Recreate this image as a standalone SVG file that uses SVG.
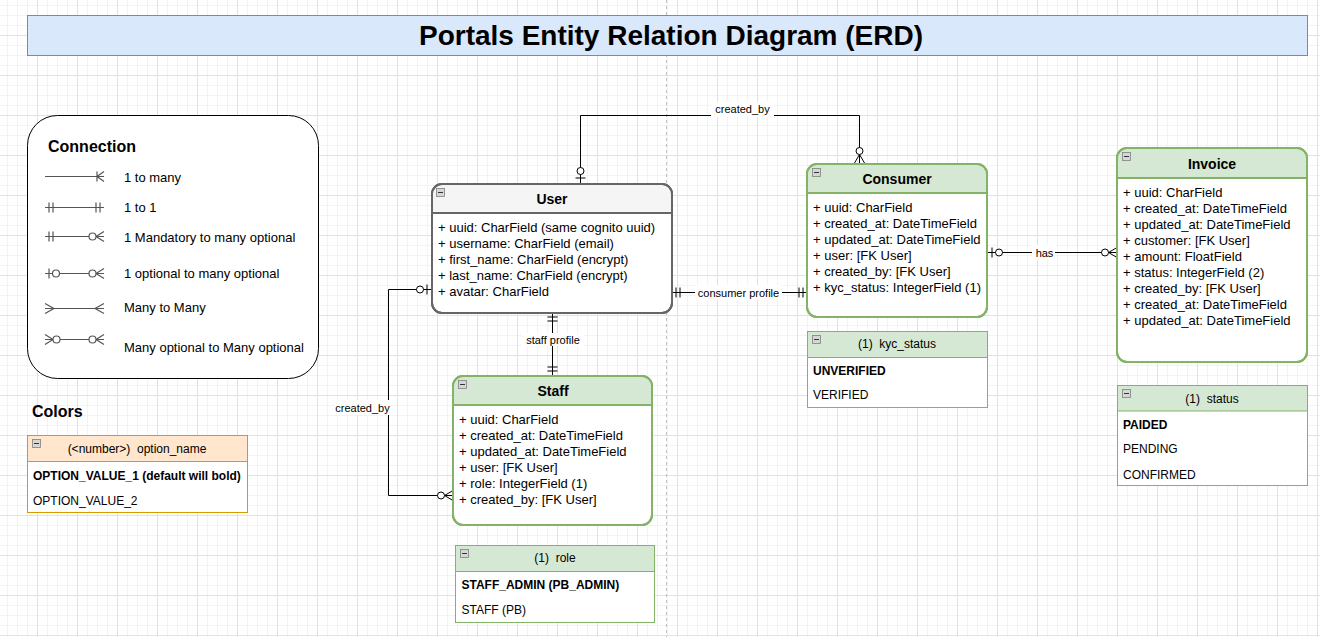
<svg xmlns="http://www.w3.org/2000/svg" xmlns:xlink="http://www.w3.org/1999/xlink" width="1320" height="637" viewBox="0 0 1320 637">
<style>
text{font-family:"Liberation Sans",Arial,Helvetica,sans-serif;fill:#000}
.title{font-size:28px;font-weight:bold}
.h16{font-size:16px;font-weight:bold}
.t12{font-size:12px}
.t13{font-size:13px}
.b12{font-size:12px;font-weight:bold}
.ent-title{font-size:14px;font-weight:bold}
.lbl{font-size:11px}
.pre{white-space:pre}
.edge{fill:none;stroke:#000;stroke-width:1}
.lg{fill:none;stroke:#555;stroke-width:1.2}
.lbg{fill:#fff}
.user-box{fill:#fff;stroke:#666;stroke-width:2}
.user-head{fill:#f5f5f5}
.green-box{fill:#fff;stroke:#82b366;stroke-width:2}
.green-head{fill:#d5e8d4}
.tbl-green{fill:#fff;stroke:#82b366;stroke-width:1}
.tbl-orange{fill:#fff;stroke:#d79b00;stroke-width:1}
</style>
<defs>
<pattern id="grid" patternUnits="userSpaceOnUse" x="37" y="35" width="40" height="40">
<path d="M0 10.5H40M0 20.5H40M0 30.5H40M10.5 0V40M20.5 0V40M30.5 0V40" stroke="#f3f3f3" stroke-width="1" fill="none"/>
<path d="M0 0.5H40M0.5 0V40" stroke="#e2e2e2" stroke-width="1" fill="none"/>
</pattern>
<g id="minus"><rect x="0.5" y="0.5" width="8" height="8" fill="#d6d6d6" stroke="#808080" stroke-width="0.8"/><line x1="2" y1="4.5" x2="7" y2="4.5" stroke="#333" stroke-width="1"/></g>
<marker id="zOne" markerUnits="userSpaceOnUse" viewBox="-20 -8 22 16" refX="0" refY="0" markerWidth="22" markerHeight="16" orient="auto-start-reverse" overflow="visible">
<g fill="none" stroke="#000" stroke-width="1"><line x1="-5" y1="-5" x2="-5" y2="5"/><circle cx="-12" cy="0" r="3.5" fill="#fff"/></g>
</marker>
<marker id="zMany" markerUnits="userSpaceOnUse" viewBox="-20 -8 22 16" refX="0" refY="0" markerWidth="22" markerHeight="16" orient="auto-start-reverse" overflow="visible">
<g fill="none" stroke="#000" stroke-width="1"><path d="M-8.5 0L0 -5M-8.5 0L0 5M-8.5 0H0"/><circle cx="-12" cy="0" r="3.5" fill="#fff"/></g>
</marker>
<marker id="mOne" markerUnits="userSpaceOnUse" viewBox="-20 -8 22 16" refX="0" refY="0" markerWidth="22" markerHeight="16" orient="auto-start-reverse" overflow="visible">
<g fill="none" stroke="#000" stroke-width="1"><path d="M-4 -5V5M-8 -5V5"/></g>
</marker>
<marker id="lzOne" markerUnits="userSpaceOnUse" viewBox="-20 -8 22 16" refX="0" refY="0" markerWidth="22" markerHeight="16" orient="auto-start-reverse" overflow="visible">
<g fill="none" stroke="#555" stroke-width="1.2"><line x1="-4" y1="-5" x2="-4" y2="5"/><circle cx="-11" cy="0" r="3.5" fill="#fff"/></g>
</marker>
<marker id="lzMany" markerUnits="userSpaceOnUse" viewBox="-20 -8 22 16" refX="0" refY="0" markerWidth="22" markerHeight="16" orient="auto-start-reverse" overflow="visible">
<g fill="none" stroke="#555" stroke-width="1.2"><path d="M-8 0L0 -5M-8 0L0 5"/><circle cx="-11.5" cy="0" r="3.5" fill="#fff"/></g>
</marker>
<marker id="lmOne" markerUnits="userSpaceOnUse" viewBox="-20 -8 22 16" refX="0" refY="0" markerWidth="22" markerHeight="16" orient="auto-start-reverse" overflow="visible">
<g fill="none" stroke="#555" stroke-width="1.2"><path d="M-4 -5V5M-8 -5V5"/></g>
</marker>
<marker id="lMany" markerUnits="userSpaceOnUse" viewBox="-20 -8 22 16" refX="0" refY="0" markerWidth="22" markerHeight="16" orient="auto-start-reverse" overflow="visible">
<g fill="none" stroke="#555" stroke-width="1.2"><path d="M-9 0L0 -5M-9 0L0 5"/></g>
</marker>
<marker id="lOneMany" markerUnits="userSpaceOnUse" viewBox="-20 -8 22 16" refX="0" refY="0" markerWidth="22" markerHeight="16" orient="auto-start-reverse" overflow="visible">
<g fill="none" stroke="#555" stroke-width="1.2"><path d="M-7 -5V5M-7 0L0 -5M-7 0L0 5"/></g>
</marker>
</defs>

<rect x="0" y="0" width="1320" height="637" fill="#fff"/>
<rect x="0" y="0" width="1320" height="637" fill="url(#grid)"/>
<line x1="666.5" y1="0" x2="666.5" y2="637" stroke="#c0c0c0" stroke-width="1" stroke-dasharray="3 3"/>

<g id="title">
<rect x="27.5" y="15.5" width="1280" height="40" fill="#dae8fc" stroke="#6c8ebf" stroke-width="1"/>
<text class="title" x="671" y="45" text-anchor="middle">Portals Entity Relation Diagram (ERD)</text>
</g>

<g id="legend">
<rect x="27.5" y="115.5" width="291" height="263" rx="30" ry="30" fill="#fff" stroke="#000" stroke-width="1"/>
<text class="h16" x="48" y="152">Connection</text>
<line class="lg" x1="45" y1="176.5" x2="104" y2="176.5" marker-end="url(#lOneMany)"/>
<text class="t13" x="124" y="182">1 to many</text>
<line class="lg" x1="45" y1="207.5" x2="104" y2="207.5" marker-start="url(#lmOne)" marker-end="url(#lmOne)"/>
<text class="t13" x="124" y="212">1 to 1</text>
<line class="lg" x1="45" y1="236.5" x2="104" y2="236.5" marker-start="url(#lmOne)" marker-end="url(#lzMany)"/>
<text class="t13" x="124" y="241.5">1 Mandatory to many optional</text>
<line class="lg" x1="45" y1="273.5" x2="104" y2="273.5" marker-start="url(#lzOne)" marker-end="url(#lzMany)"/>
<text class="t13" x="124" y="277.5">1 optional to many optional</text>
<line class="lg" x1="45" y1="308.5" x2="104" y2="308.5" marker-start="url(#lMany)" marker-end="url(#lMany)"/>
<text class="t13" x="124" y="312">Many to Many</text>
<line class="lg" x1="45" y1="339.5" x2="104" y2="339.5" marker-start="url(#lzMany)" marker-end="url(#lzMany)"/>
<text class="t13" x="124" y="352">Many optional to Many optional</text>
</g>

<g id="colors">
<text class="h16" x="32" y="416.5">Colors</text>
<rect class="tbl-orange" x="27.5" y="435.5" width="220" height="77"/>
<rect x="27.5" y="435.5" width="220" height="26" fill="#ffe6cc" stroke="#d79b00" stroke-width="1"/>
<use href="#minus" x="32" y="439"/>
<text class="t12 pre" x="137" y="452.5" text-anchor="middle">(&lt;number&gt;)  option_name</text>
<text class="b12" x="33" y="479.5">OPTION_VALUE_1 (default will bold)</text>
<text class="t12" x="33" y="504.5">OPTION_VALUE_2</text>
</g>

<g id="connectors">
<path class="edge" d="M580.5 183V115.5H859.5V163" marker-start="url(#zOne)" marker-end="url(#zMany)"/>
<rect class="lbg" x="711" y="102" width="63" height="15"/>
<text class="lbl" x="742.5" y="113" text-anchor="middle">created_by</text>
<path class="edge" d="M672 292.5H807" marker-start="url(#mOne)" marker-end="url(#mOne)"/>
<rect class="lbg" x="695" y="285" width="87" height="15"/>
<text class="lbl" x="738.5" y="296.5" text-anchor="middle">consumer profile</text>
<path class="edge" d="M552.5 313V375" marker-start="url(#mOne)" marker-end="url(#mOne)"/>
<rect class="lbg" x="522" y="333" width="62" height="13"/>
<text class="lbl" x="553" y="343.5" text-anchor="middle">staff profile</text>
<path class="edge" d="M432 289.5H388.5V495.5H453" marker-start="url(#zOne)" marker-end="url(#zMany)"/>
<rect class="lbg" x="335" y="400" width="55" height="15"/>
<text class="lbl" x="362.5" y="411.5" text-anchor="middle">created_by</text>
<path class="edge" d="M987 252.5H1117" marker-start="url(#zOne)" marker-end="url(#zMany)"/>
<rect class="lbg" x="1032" y="245" width="23" height="15"/>
<text class="lbl" x="1044.5" y="256.5" text-anchor="middle">has</text>
</g>

<g id="user">
<rect class="user-box" x="432" y="184" width="240" height="129" rx="10"/>
<path class="user-head" d="M433 213V194a9 9 0 0 1 9 -9H662a9 9 0 0 1 9 9V213Z"/>
<line x1="432" y1="213" x2="672" y2="213" stroke="#666" stroke-width="2"/>
<rect x="432" y="184" width="240" height="129" rx="10" fill="none" stroke="#666" stroke-width="2"/>
<use href="#minus" x="436" y="188"/>
<text class="ent-title" x="552" y="203.5" text-anchor="middle">User</text>
<text class="t13" x="438" y="232">+ uuid: CharField (same cognito uuid)</text>
<text class="t13" x="438" y="248">+ username: CharField (email)</text>
<text class="t13" x="438" y="264">+ first_name: CharField (encrypt)</text>
<text class="t13" x="438" y="280">+ last_name: CharField (encrypt)</text>
<text class="t13" x="438" y="296">+ avatar: CharField</text>
</g>

<g id="consumer">
<rect class="green-box" x="807" y="164" width="180" height="153" rx="10"/>
<path class="green-head" d="M808 193V174a9 9 0 0 1 9 -9H977a9 9 0 0 1 9 9V193Z"/>
<line x1="807" y1="193" x2="987" y2="193" stroke="#82b366" stroke-width="2"/>
<rect x="807" y="164" width="180" height="153" rx="10" fill="none" stroke="#82b366" stroke-width="2"/>
<use href="#minus" x="812" y="168"/>
<text class="ent-title" x="897" y="184" text-anchor="middle">Consumer</text>
<text class="t13" x="813" y="212">+ uuid: CharField</text>
<text class="t13" x="813" y="228">+ created_at: DateTimeField</text>
<text class="t13" x="813" y="244">+ updated_at: DateTimeField</text>
<text class="t13" x="813" y="260">+ user: [FK User]</text>
<text class="t13" x="813" y="276">+ created_by: [FK User]</text>
<text class="t13" x="813" y="292">+ kyc_status: IntegerField (1)</text>
</g>

<g id="invoice">
<rect class="green-box" x="1117" y="148" width="190" height="214" rx="10"/>
<path class="green-head" d="M1118 178V158a9 9 0 0 1 9 -9H1297a9 9 0 0 1 9 9V178Z"/>
<line x1="1117" y1="178" x2="1307" y2="178" stroke="#82b366" stroke-width="2"/>
<rect x="1117" y="148" width="190" height="214" rx="10" fill="none" stroke="#82b366" stroke-width="2"/>
<use href="#minus" x="1122" y="152"/>
<text class="ent-title" x="1212" y="169" text-anchor="middle">Invoice</text>
<text class="t13" x="1123" y="196.5">+ uuid: CharField</text>
<text class="t13" x="1123" y="212.5">+ created_at: DateTimeField</text>
<text class="t13" x="1123" y="228.5">+ updated_at: DateTimeField</text>
<text class="t13" x="1123" y="244.5">+ customer: [FK User]</text>
<text class="t13" x="1123" y="260.5">+ amount: FloatField</text>
<text class="t13" x="1123" y="276.5">+ status: IntegerField (2)</text>
<text class="t13" x="1123" y="292.5">+ created_by: [FK User]</text>
<text class="t13" x="1123" y="308.5">+ created_at: DateTimeField</text>
<text class="t13" x="1123" y="324.5">+ updated_at: DateTimeField</text>
</g>

<g id="staff">
<rect class="green-box" x="453" y="376" width="199" height="149" rx="10"/>
<path class="green-head" d="M454 405V386a9 9 0 0 1 9 -9H642a9 9 0 0 1 9 9V405Z"/>
<line x1="453" y1="405" x2="652" y2="405" stroke="#82b366" stroke-width="2"/>
<rect x="453" y="376" width="199" height="149" rx="10" fill="none" stroke="#82b366" stroke-width="2"/>
<use href="#minus" x="458" y="380"/>
<text class="ent-title" x="553" y="396" text-anchor="middle">Staff</text>
<text class="t13" x="459" y="423.5">+ uuid: CharField</text>
<text class="t13" x="459" y="439.5">+ created_at: DateTimeField</text>
<text class="t13" x="459" y="455.5">+ updated_at: DateTimeField</text>
<text class="t13" x="459" y="471.5">+ user: [FK User]</text>
<text class="t13" x="459" y="487.5">+ role: IntegerField (1)</text>
<text class="t13" x="459" y="503.5">+ created_by: [FK User]</text>
</g>

<g id="role">
<rect class="tbl-green" x="455.5" y="545.5" width="199" height="77"/>
<rect x="455.5" y="545.5" width="199" height="26" fill="#d5e8d4" stroke="#82b366" stroke-width="1"/>
<use href="#minus" x="460" y="549"/>
<text class="t12 pre" x="555" y="562" text-anchor="middle">(1)  role</text>
<text class="b12" x="461.5" y="588.5">STAFF_ADMIN (PB_ADMIN)</text>
<text class="t12" x="461.5" y="614">STAFF (PB)</text>
</g>

<g id="kyc_status">
<rect class="tbl-green" x="807.5" y="331.5" width="180" height="76"/>
<rect x="807.5" y="331.5" width="180" height="26" fill="#d5e8d4" stroke="#82b366" stroke-width="1"/>
<use href="#minus" x="812" y="335"/>
<text class="t12 pre" x="897" y="348" text-anchor="middle">(1)  kyc_status</text>
<text class="b12" x="813" y="375">UNVERIFIED</text>
<text class="t12" x="813" y="398.5">VERIFIED</text>
</g>

<g id="status">
<rect class="tbl-green" x="1117.5" y="385.5" width="190" height="100"/>
<rect x="1117.5" y="385.5" width="190" height="25.5" fill="#d5e8d4" stroke="#82b366" stroke-width="1"/>
<use href="#minus" x="1122" y="389"/>
<text class="t12 pre" x="1212" y="402.5" text-anchor="middle">(1)  status</text>
<text class="b12" x="1123" y="429">PAIDED</text>
<text class="t12" x="1123" y="452.5">PENDING</text>
<text class="t12" x="1123" y="478.5">CONFIRMED</text>
</g>
</svg>
